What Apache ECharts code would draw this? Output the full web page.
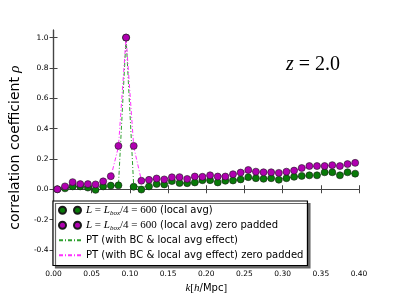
<!DOCTYPE html>
<html><head><meta charset="utf-8">
<script src="https://cdn.jsdelivr.net/npm/echarts@6/dist/echarts.min.js"></script>
<style>html,body{margin:0;padding:0;background:#fff}#c{width:399px;height:299px}</style>
</head><body><div id="c"></div>
<script>
// ---- data ----
const kValues = [0.005,0.015,0.025,0.035,0.045,0.055,0.065,0.075,0.085,0.095,
                 0.105,0.115,0.125,0.135,0.145,0.155,0.165,0.175,0.185,0.195,
                 0.205,0.215,0.225,0.235,0.245,0.255,0.265,0.275,0.285,0.295,
                 0.305,0.315,0.325,0.335,0.345,0.355,0.365,0.375,0.385,0.395];
const localAvg = [0.000,0.006,0.019,0.019,0.011,-0.004,0.019,0.024,0.026,1.000,
                  0.017,-0.002,0.019,0.035,0.032,0.054,0.041,0.040,0.045,0.060,
                  0.060,0.045,0.056,0.058,0.065,0.080,0.073,0.069,0.073,0.063,
                  0.073,0.082,0.088,0.092,0.092,0.112,0.112,0.092,0.112,0.103];
const zeroPadded = [0.000,0.019,0.047,0.034,0.034,0.032,0.052,0.086,0.286,1.000,
                    0.286,0.056,0.062,0.071,0.065,0.079,0.080,0.068,0.084,0.082,
                    0.092,0.084,0.084,0.099,0.110,0.127,0.116,0.112,0.112,0.108,
                    0.116,0.123,0.140,0.153,0.153,0.153,0.159,0.153,0.166,0.174];
const ptLocal = [0.005,0.010,0.015,0.018,0.015,0.012,0.018,0.022,0.025,1.000,
                 0.020,0.015,0.022,0.032,0.034,0.045,0.042,0.040,0.044,0.052,
                 0.055,0.050,0.055,0.058,0.064,0.072,0.070,0.068,0.070,0.068,
                 0.074,0.080,0.085,0.090,0.092,0.100,0.102,0.098,0.104,0.104];
const ptZero = [0.005,0.020,0.035,0.035,0.035,0.035,0.050,0.080,0.280,1.000,
                0.280,0.060,0.065,0.070,0.070,0.078,0.080,0.075,0.083,0.085,
                0.090,0.088,0.090,0.100,0.108,0.118,0.115,0.112,0.112,0.112,
                0.118,0.124,0.136,0.148,0.152,0.154,0.158,0.156,0.164,0.172];
const xTicks = [0,0.05,0.10,0.15,0.20,0.25,0.30,0.35,0.40];
const yTicks = [-0.4,-0.2,0.0,0.2,0.4,0.6,0.8,1.0];
const legendLabels = {
  localAvg: '{i|L}{m| = }{i|L}{s|box}{m|/4 = 600}{t| (local avg)}',
  zeroPadded: '{i|L}{m| = }{i|L}{s|box}{m|/4 = 600}{t| (local avg) zero padded}',
  ptLocal: '{t|PT (with BC & local avg effect)}',
  ptZero: '{t|PT (with BC & local avg effect) zero padded}'
};

const pairs = arr => kValues.map((k, i) => [k, arr[i]]);
const chart = echarts.init(document.getElementById('c'), null, {renderer: 'canvas'});
const frame = {show: true, lineStyle: {color: '#444', width: 1.2}};
const tickIn = {show: true, inside: true, length: 4, lineStyle: {color: '#444', width: 1}};
const sans = 'DejaVu Sans';
const serif = 'Liberation Serif';
const dotPath = 'path://M0,3.5a3.5,3.5 0 1,0 7,0a3.5,3.5 0 1,0 -7,0zM15,3.5a3.5,3.5 0 1,0 7,0a3.5,3.5 0 1,0 -7,0z';
const hiddenSym = {color: 'rgba(0,0,0,0)', borderColor: 'rgba(0,0,0,0)', borderWidth: 0};

chart.setOption({
  animation: false,
  backgroundColor: '#fff',
  grid: {left: 49.5, top: 30, right: 40, bottom: 31, containLabel: false},
  title: {
    text: '{i|z}{m| = 2.0}',
    left: 281, top: 50,
    textStyle: {fontWeight: 'normal', rich: {
      i: {fontFamily: serif, fontStyle: 'italic', fontWeight: 'normal', fontSize: 20, color: '#000'},
      m: {fontFamily: serif, fontWeight: 'normal', fontSize: 20, color: '#000'}
    }}
  },
  xAxis: [{
    type: 'value', min: 0, max: 0.4, position: 'bottom',
    axisLine: frame, axisTick: Object.assign({customValues: xTicks}, tickIn),
    splitLine: {show: false},
    axisLabel: {customValues: xTicks, formatter: v => v.toFixed(2), fontSize: 7.5, fontFamily: sans, color: '#000', margin: 5},
    name: '{i|k}{n|[}{i|h}{t|/Mpc}{n|]}', nameLocation: 'middle', nameGap: 14,
    nameTextStyle: {rich: {
      i: {fontFamily: serif, fontStyle: 'italic', fontSize: 11, color: '#000'},
      n: {fontFamily: serif, fontSize: 11, color: '#000'},
      t: {fontFamily: sans, fontSize: 10, color: '#000'}
    }}
  }, {
    type: 'value', min: 0, max: 0.4, position: 'top',
    axisLine: frame, axisTick: Object.assign({customValues: xTicks}, tickIn),
    splitLine: {show: false}, axisLabel: {show: false}
  }],
  yAxis: [{
    type: 'value', min: -0.5, max: 1.05, position: 'left',
    axisLine: frame, axisTick: Object.assign({customValues: yTicks}, tickIn),
    splitLine: {show: false},
    axisLabel: {customValues: yTicks, formatter: v => v.toFixed(1), fontSize: 7.5, fontFamily: sans, color: '#000', margin: 5},
    name: '{t|correlation coefficient }{i|ρ}', nameLocation: 'middle', nameGap: 22, nameRotate: 90,
    nameTextStyle: {rich: {
      t: {fontFamily: sans, fontSize: 14, color: '#000'},
      i: {fontFamily: serif, fontStyle: 'italic', fontSize: 15, color: '#000'}
    }}
  }, {
    type: 'value', min: -0.5, max: 1.05, position: 'right',
    axisLine: frame, axisTick: Object.assign({customValues: yTicks}, tickIn),
    splitLine: {show: false}, axisLabel: {show: false}
  }],
  legend: {
    orient: 'vertical', left: 53, top: 201,
    padding: [3, 4, 4, 5], itemGap: 2.5, itemWidth: 22, itemHeight: 7,
    backgroundColor: '#fff', borderColor: '#000', borderWidth: 1.2,
    shadowColor: '#666', shadowBlur: 0, shadowOffsetX: 2.5, shadowOffsetY: 2.5,
    data: [
      {name: 'localAvg', icon: dotPath},
      {name: 'zeroPadded', icon: dotPath},
      {name: 'ptLocal', itemStyle: hiddenSym},
      {name: 'ptZero', itemStyle: hiddenSym}
    ],
    formatter: name => legendLabels[name],
    textStyle: {
      fontSize: 10, fontFamily: sans, color: '#000', lineHeight: 12.5,
      rich: {
        i: {fontFamily: serif, fontStyle: 'italic', fontSize: 11, color: '#000', lineHeight: 12.5},
        m: {fontFamily: serif, fontSize: 11, color: '#000', lineHeight: 12.5},
        s: {fontFamily: serif, fontStyle: 'italic', fontSize: 7, color: '#000', verticalAlign: 'bottom', lineHeight: 12.5},
        t: {fontFamily: sans, fontSize: 10, color: '#000', lineHeight: 12.5}
      }
    }
  },
  series: [
    {name: 'localAvg', type: 'scatter', data: pairs(localAvg), symbolSize: 7, z: 4,
     itemStyle: {color: '#087a08', borderColor: '#1a1a1a', borderWidth: 0.6, opacity: 1}},
    {name: 'zeroPadded', type: 'scatter', data: pairs(zeroPadded), symbolSize: 7, z: 5,
     itemStyle: {color: '#b000b0', borderColor: '#1a1a1a', borderWidth: 0.6, opacity: 1}},
    {name: 'ptLocal', type: 'line', data: pairs(ptLocal), symbol: 'none', z: 2,
     lineStyle: {color: '#2ea02e', width: 1, type: [4, 2, 1, 2]}},
    {name: 'ptZero', type: 'line', data: pairs(ptZero), symbol: 'none', z: 3,
     lineStyle: {color: '#ff30ff', width: 1, type: [4, 2, 1, 2]}}
  ]
});
</script>
</body></html>
